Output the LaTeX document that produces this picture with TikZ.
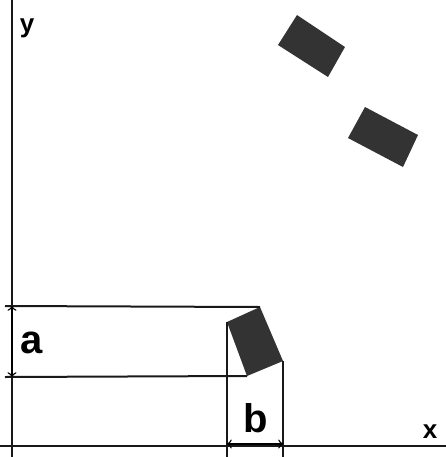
\documentclass[tikz,border=0pt]{standalone}
\usepackage{fontspec}
\setmainfont{Liberation Sans}
\usetikzlibrary{arrows, calc}
\tikzstyle{block} = [fill=black!80, draw=none]
\tikzstyle{guide} = [line width=1pt, black!90]
\tikzstyle{dim} = [line width=0.7pt, <->, >=to]
\tikzstyle{biglabel} = [font=\bfseries\fontsize{20}{20}\selectfont, inner sep=0pt, anchor=base]
\tikzstyle{axislabel} = [font=\bfseries\fontsize{13}{13}\selectfont, inner sep=0pt, anchor=base]

\begin{document}
\begin{tikzpicture}[x=0.5pt, y=-0.5pt]
    \useasboundingbox (0,0) rectangle (446,457);

    % axes
    \coordinate (ytop) at (12,0);
    \coordinate (ybot) at (12,457);
    \coordinate (xleft) at (0,446);
    \coordinate (xright) at (446,446);
    \draw [guide] (ytop) -- (ybot);
    \draw [guide] (xleft) -- (xright);
    \node (ylabel) [axislabel] at (27,32) {y};
    \node (xlabel) [axislabel] at (430,438) {x};

    % tilted block near the axes
    \coordinate (left) at (227,322);
    \coordinate (top) at (260,307);
    \coordinate (right) at (283,361);
    \coordinate (bottom) at (247,376);
    \fill [block] (left) -- (top) -- (right) -- (bottom) -- cycle;

    % the two blocks further out
    \fill [block] (297,15) -- (345,47) -- (328,77) -- (278,45) -- cycle;
    \fill [block] (365,107) -- (418,135) -- (403,167) -- (348,138) -- cycle;

    % guide lines
    \draw [guide] (5,306) -- (top);
    \draw [guide] (5,377) -- (bottom);
    \draw [guide] (left) -- (left |- ybot);
    \draw [guide] (right) -- (right |- ybot);

    % dimensions
    \draw [dim] (12,306) -- (12,377);
    \node (alabel) [biglabel] at (32,353) {a};
    \draw [dim] (left |- 0,444) -- (right |- 0,444);
    \node (blabel) [biglabel] at (256,432) {b};
\end{tikzpicture}
\end{document}
